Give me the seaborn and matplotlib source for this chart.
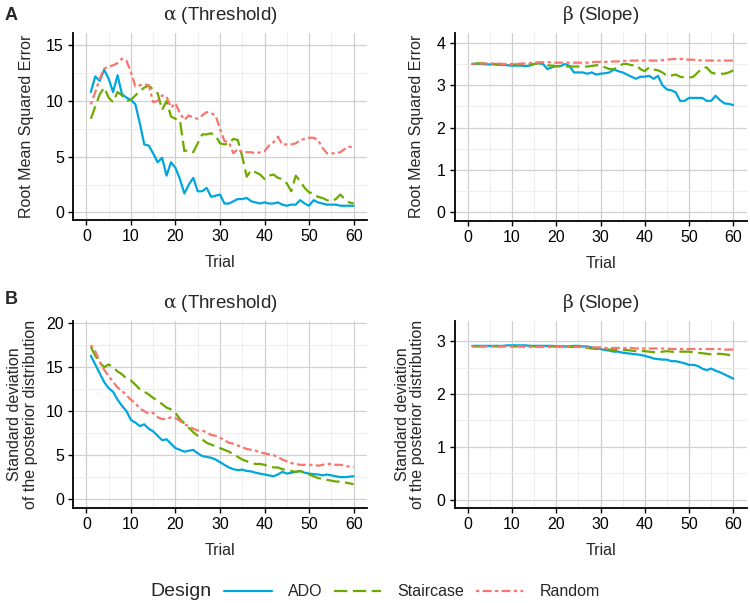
import numpy as np
import pandas as pd
import matplotlib
matplotlib.use("Agg")
import matplotlib.pyplot as plt
from matplotlib.lines import Line2D
from matplotlib.ticker import MultipleLocator
import seaborn as sns

trials = list(range(1, 61))
designs = ["ADO", "Staircase", "Random"]

# Panel A, alpha: root mean squared error
rmse_alpha_ado = [10.8, 12.2, 11.8, 12.8, 12.0, 10.8, 12.3, 10.6, 10.3, 10.1,
                  9.7, 8.0, 6.1, 6.0, 5.3, 4.5, 4.9, 3.3, 4.5, 4.0,
                  3.0, 1.7, 2.5, 3.1, 1.9, 1.9, 2.2, 1.4, 1.5, 1.6,
                  0.8, 0.8, 1.0, 1.2, 1.2, 1.3, 1.0, 0.9, 0.8, 0.9,
                  0.8, 0.8, 0.9, 0.7, 0.6, 0.7, 0.7, 1.1, 0.8, 0.6,
                  1.1, 0.9, 0.8, 0.7, 0.7, 0.7, 0.6, 0.6, 0.6, 0.6]
rmse_alpha_stair = [8.4, 9.5, 10.6, 11.2, 10.3, 9.9, 10.8, 10.5, 10.0, 10.1,
                    10.5, 10.9, 11.2, 11.4, 11.0, 10.7, 9.2, 10.0, 8.6, 8.4,
                    8.3, 5.5, 5.6, 5.4, 6.2, 7.0, 7.0, 7.1, 6.9, 6.2,
                    6.1, 6.2, 6.6, 6.5, 5.0, 3.2, 3.8, 3.6, 3.4, 3.0,
                    3.3, 3.4, 3.1, 3.0, 2.6, 1.9, 3.3, 2.8, 2.2, 1.8,
                    1.7, 1.4, 1.3, 1.1, 1.0, 1.2, 1.6, 1.2, 0.9, 0.8]
rmse_alpha_random = [9.7, 10.8, 12.0, 12.9, 13.1, 13.2, 13.4, 13.8, 13.6, 12.6,
                     11.3, 11.4, 11.5, 11.4, 9.9, 10.0, 10.5, 10.4, 9.4, 9.8,
                     8.9, 8.3, 8.7, 8.5, 8.4, 8.7, 9.0, 8.9, 8.7, 7.5,
                     6.4, 6.3, 5.3, 5.7, 5.4, 5.4, 5.4, 5.3, 5.4, 5.5,
                     6.0, 6.3, 6.8, 6.1, 6.1, 6.1, 6.2, 6.5, 6.6, 6.7,
                     6.7, 6.5, 5.8, 5.3, 5.3, 5.3, 5.4, 5.7, 5.9, 5.8]

# Panel A, beta: root mean squared error
rmse_beta_ado = [3.50, 3.50, 3.50, 3.49, 3.49, 3.49, 3.48, 3.48, 3.47, 3.46,
                 3.46, 3.46, 3.45, 3.46, 3.50, 3.52, 3.50, 3.38, 3.42, 3.45,
                 3.45, 3.50, 3.45, 3.30, 3.30, 3.30, 3.27, 3.30, 3.25, 3.27,
                 3.28, 3.30, 3.37, 3.33, 3.30, 3.25, 3.20, 3.15, 3.20, 3.20,
                 3.22, 3.15, 3.22, 3.00, 2.90, 2.88, 2.83, 2.63, 2.63, 2.70,
                 2.70, 2.70, 2.70, 2.63, 2.63, 2.75, 2.65, 2.57, 2.56, 2.53]
rmse_beta_stair = [3.50, 3.51, 3.52, 3.51, 3.50, 3.50, 3.49, 3.49, 3.49, 3.49,
                   3.49, 3.49, 3.48, 3.49, 3.50, 3.52, 3.50, 3.47, 3.46, 3.45,
                   3.44, 3.44, 3.44, 3.44, 3.44, 3.44, 3.44, 3.45, 3.47, 3.47,
                   3.42, 3.38, 3.38, 3.42, 3.50, 3.50, 3.47, 3.48, 3.38, 3.33,
                   3.42, 3.37, 3.35, 3.30, 3.22, 3.23, 3.25, 3.20, 3.18, 3.18,
                   3.20, 3.30, 3.40, 3.42, 3.30, 3.27, 3.27, 3.27, 3.30, 3.35]
rmse_beta_random = [3.50, 3.50, 3.51, 3.51, 3.51, 3.51, 3.51, 3.50, 3.50, 3.50,
                    3.50, 3.51, 3.51, 3.52, 3.53, 3.54, 3.54, 3.54, 3.54, 3.53,
                    3.53, 3.53, 3.53, 3.53, 3.53, 3.53, 3.53, 3.54, 3.55, 3.55,
                    3.55, 3.55, 3.56, 3.56, 3.57, 3.57, 3.58, 3.58, 3.58, 3.58,
                    3.58, 3.58, 3.58, 3.59, 3.60, 3.61, 3.62, 3.62, 3.61, 3.60,
                    3.60, 3.59, 3.58, 3.58, 3.58, 3.58, 3.58, 3.58, 3.58, 3.58]

# Panel B, alpha: posterior standard deviation
sd_alpha_ado = [16.3, 15.3, 14.3, 13.3, 12.6, 12.2, 11.3, 10.6, 10.0, 9.0,
                8.7, 8.3, 8.5, 8.0, 7.7, 7.2, 6.7, 6.8, 6.3, 5.8,
                5.6, 5.4, 5.5, 5.6, 5.2, 4.9, 4.8, 4.7, 4.5, 4.2,
                3.9, 3.6, 3.4, 3.3, 3.35, 3.2, 3.15, 3.0, 2.9, 2.8,
                2.7, 2.6, 2.8, 3.1, 2.9, 3.0, 3.1, 3.2, 3.0, 2.9,
                2.85, 2.8, 2.7, 2.8, 2.7, 2.6, 2.5, 2.5, 2.55, 2.6]
sd_alpha_stair = [17.3, 16.3, 15.5, 15.0, 15.3, 15.0, 14.5, 14.2, 13.7, 13.5,
                  13.0, 12.5, 12.2, 11.9, 11.5, 11.2, 10.8, 10.4, 10.2, 9.8,
                  9.1, 8.6, 8.1, 7.6, 7.2, 6.8, 6.4, 6.2, 6.0, 5.8,
                  5.6, 5.4, 5.1, 4.8, 4.5, 4.3, 4.1, 4.0, 4.0, 3.9,
                  3.7, 3.6, 3.6, 3.4, 3.3, 3.2, 3.1, 3.2, 3.0, 2.8,
                  2.6, 2.4, 2.3, 2.2, 2.1, 2.0, 2.0, 1.9, 1.8, 1.7]
sd_alpha_random = [17.5, 16.8, 15.6, 14.7, 14.0, 13.3, 12.7, 12.3, 11.8, 11.3,
                   10.9, 10.3, 10.0, 9.7, 9.8, 9.3, 9.1, 9.1, 9.3, 9.2,
                   8.9, 8.5, 8.3, 8.0, 7.8, 7.8, 7.6, 7.3, 7.2, 7.0,
                   6.7, 6.4, 6.3, 6.1, 5.9, 5.7, 5.6, 5.5, 5.3, 5.2,
                   5.1, 5.0, 4.8, 4.5, 4.3, 4.1, 4.0, 3.9, 3.9, 3.9,
                   3.9, 3.8, 3.9, 4.0, 4.0, 3.9, 3.9, 3.8, 3.7, 3.65]

# Panel B, beta: posterior standard deviation
sd_beta_ado = [2.91, 2.91, 2.91, 2.91, 2.91, 2.91, 2.91, 2.91, 2.92, 2.92,
               2.92, 2.92, 2.92, 2.91, 2.91, 2.91, 2.91, 2.91, 2.91, 2.90,
               2.90, 2.90, 2.90, 2.91, 2.91, 2.90, 2.90, 2.88, 2.87, 2.85,
               2.83, 2.82, 2.80, 2.80, 2.78, 2.77, 2.76, 2.75, 2.74, 2.72,
               2.70, 2.67, 2.66, 2.65, 2.65, 2.62, 2.62, 2.60, 2.58, 2.55,
               2.55, 2.53, 2.48, 2.45, 2.48, 2.44, 2.41, 2.37, 2.33, 2.29]
sd_beta_stair = [2.90, 2.90, 2.90, 2.90, 2.90, 2.90, 2.90, 2.90, 2.90, 2.90,
                 2.90, 2.90, 2.91, 2.91, 2.90, 2.90, 2.90, 2.90, 2.90, 2.90,
                 2.90, 2.89, 2.89, 2.89, 2.89, 2.88, 2.87, 2.86, 2.85, 2.86,
                 2.85, 2.84, 2.83, 2.83, 2.83, 2.83, 2.82, 2.81, 2.81, 2.81,
                 2.80, 2.79, 2.79, 2.80, 2.81, 2.80, 2.79, 2.80, 2.80, 2.80,
                 2.79, 2.78, 2.77, 2.76, 2.75, 2.76, 2.76, 2.75, 2.74, 2.72]
sd_beta_random = [2.90, 2.90, 2.90, 2.90, 2.90, 2.90, 2.90, 2.90, 2.90, 2.90,
                  2.90, 2.90, 2.89, 2.89, 2.89, 2.89, 2.89, 2.89, 2.89, 2.89,
                  2.89, 2.89, 2.89, 2.89, 2.89, 2.89, 2.88, 2.88, 2.88, 2.88,
                  2.87, 2.87, 2.87, 2.87, 2.87, 2.87, 2.87, 2.86, 2.86, 2.86,
                  2.86, 2.86, 2.86, 2.86, 2.86, 2.85, 2.85, 2.85, 2.85, 2.85,
                  2.85, 2.85, 2.85, 2.85, 2.85, 2.85, 2.85, 2.84, 2.84, 2.84]

colors = {"ADO": "#00A6DD", "Staircase": "#6DAA00", "Random": "#F8766D"}
dashes = {"ADO": "", "Staircase": (6, 2.5), "Random": (1.5, 1.5, 4, 1.5)}

sns.set_theme(style="white")
plt.rcParams["font.family"] = ["Liberation Sans", "DejaVu Sans"]
plt.rcParams["mathtext.fontset"] = "dejavuserif"


def long_df(ado, stair, rand):
    return pd.DataFrame({
        "Trial": trials * 3,
        "value": ado + stair + rand,
        "Design": ["ADO"] * 60 + ["Staircase"] * 60 + ["Random"] * 60,
    })


fig = plt.figure(figsize=(7.5, 6.03), dpi=100)
W, H = 750, 603


def add_ax(l, t, r, b):
    return fig.add_axes([l / W, 1 - b / H, (r - l) / W, (b - t) / H])


sd_label = "Standard deviation\nof the posterior distribution"
panels = [
    (add_ax(73, 33, 367, 220), long_df(rmse_alpha_ado, rmse_alpha_stair, rmse_alpha_random),
     r"$\mathrm{\alpha}$ (Threshold)", "Root Mean Squared Error", (-0.68, 16.1), 5, 9),
    (add_ax(454.5, 33, 746.5, 220.5), long_df(rmse_beta_ado, rmse_beta_stair, rmse_beta_random),
     r"$\mathrm{\beta}$ (Slope)", "Root Mean Squared Error", (-0.19, 4.23), 1, 9),
    (add_ax(73, 320.5, 367, 507.5), long_df(sd_alpha_ado, sd_alpha_stair, sd_alpha_random),
     r"$\mathrm{\alpha}$ (Threshold)", sd_label, (-0.95, 20.3), 5, 6),
    (add_ax(454.5, 320.5, 746.5, 507.5), long_df(sd_beta_ado, sd_beta_stair, sd_beta_random),
     r"$\mathrm{\beta}$ (Slope)", sd_label, (-0.15, 3.39), 1, 8),
]

for ax, df, title, ylabel, ylim, step, ypad in panels:
    sns.lineplot(data=df, x="Trial", y="value", hue="Design", style="Design",
                 hue_order=designs, style_order=designs, palette=colors,
                 dashes=dashes, linewidth=1.6, legend=False, ax=ax, zorder=3)
    ax.set_xlim(-3, 63)
    ax.set_ylim(*ylim)
    ax.xaxis.set_major_locator(MultipleLocator(10))
    ax.xaxis.set_minor_locator(MultipleLocator(5))
    ax.yaxis.set_major_locator(MultipleLocator(step))
    ax.yaxis.set_minor_locator(MultipleLocator(step / 2))
    ax.grid(which="major", color="#D0D0D0", linewidth=0.9)
    ax.grid(which="minor", color="#EBEBEB", linewidth=0.6)
    ax.set_axisbelow(True)
    for s in ["top", "right"]:
        ax.spines[s].set_visible(False)
    for s in ["left", "bottom"]:
        ax.spines[s].set_color("black")
        ax.spines[s].set_linewidth(1.3)
    ax.tick_params(which="major", length=3.5, width=1.0, color="black",
                   labelsize=11.5, labelcolor="black", pad=3, bottom=True, left=True)
    ax.tick_params(which="minor", length=0)
    ax.set_title(title, fontsize=13.5, pad=9)
    ax.set_xlabel("Trial", fontsize=11.5, labelpad=8)
    ax.set_ylabel(ylabel, fontsize=11.5, labelpad=ypad, linespacing=1.05)

fig.text(5 / W, 1 - 15 / H, "A", fontsize=13, fontweight="bold", va="center", ha="left")
fig.text(5 / W, 1 - 300 / H, "B", fontsize=13, fontweight="bold", va="center", ha="left")

handles = [Line2D([0], [0], color=colors["ADO"], linewidth=1.6, linestyle="-"),
           Line2D([0], [0], color=colors["Staircase"], linewidth=1.6, dashes=dashes["Staircase"]),
           Line2D([0], [0], color=colors["Random"], linewidth=1.6, dashes=dashes["Random"])]
fig.text(150 / W, 1 - 592 / H, "Design", fontsize=14, va="center", ha="left")
fig.legend(handles, designs, loc="center left", bbox_to_anchor=(224 / W, 1 - 592 / H),
           ncol=3, frameon=False, fontsize=11.5, handlelength=3.0, columnspacing=0.7,
           handletextpad=1.0, borderpad=0, borderaxespad=0)

fig.savefig("out.png", dpi=100)
